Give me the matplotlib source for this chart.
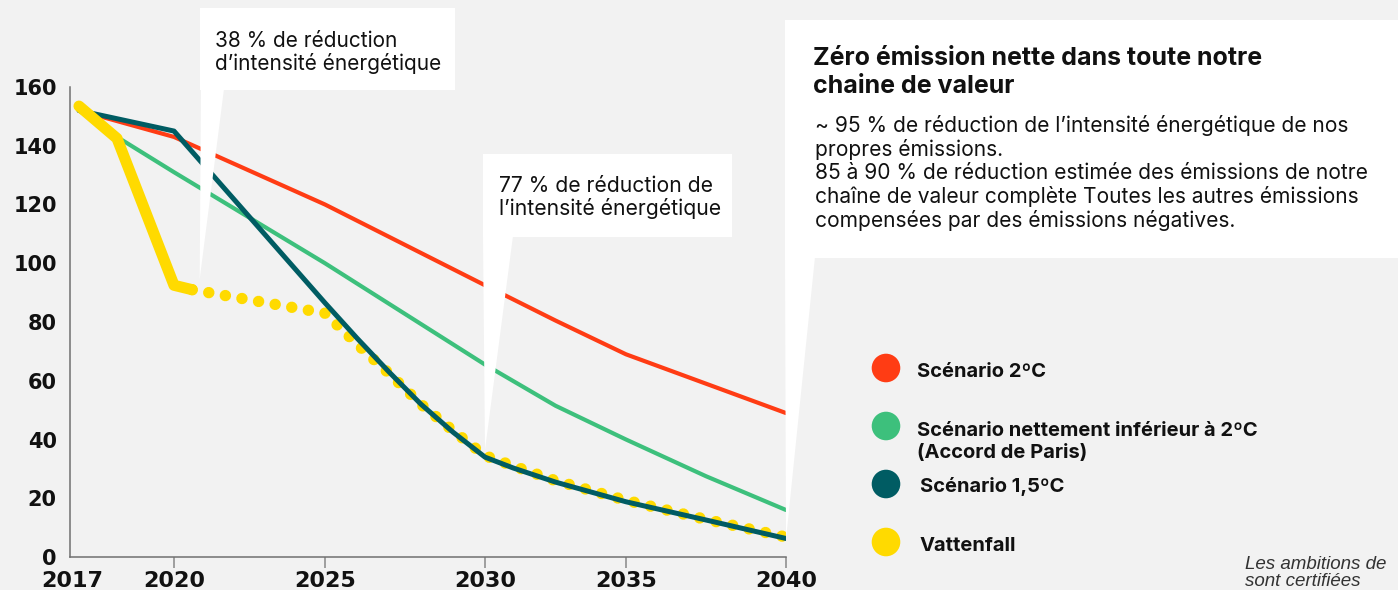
import numpy as np
import matplotlib
matplotlib.use("Agg")
import matplotlib.pyplot as plt
from matplotlib.patches import Polygon, Circle
from matplotlib.transforms import ScaledTranslation

W, H = 1398, 590
DPI = 100
BG = "#F2F2F2"

# ---------------- data ----------------
years_2c = [2017, 2020, 2025, 2030, 2032.5, 2035, 2037.5, 2040]
vals_2c = [152, 143, 120, 92.5, 80.5, 69, 59, 49]

years_wb2 = [2017, 2018.2, 2020, 2025, 2030, 2032.5, 2035, 2037.5, 2040]
vals_wb2 = [152, 143, 131, 100, 65.5, 51.5, 40, 27.5, 16]

years_15 = [2017, 2020, 2025, 2026, 2027, 2028, 2029, 2030, 2031, 2032.5, 2035, 2037.5, 2040]
vals_15 = [152, 145, 86.5, 74.5, 63, 52, 42.5, 34, 30.3, 25.5, 18.8, 12.6, 6.3]

years_vf_solid = [2017, 2018.2, 2020, 2020.6]
vals_vf_solid = [153.5, 142.5, 92.5, 91]
years_vf_dot = [2020.6, 2025, 2026, 2027, 2028, 2029, 2030, 2031, 2032.5, 2035, 2037.5, 2040]
vals_vf_dot = [91, 83, 72.5, 62.5, 52, 43, 34.5, 31, 26, 19.3, 12.8, 6.8]

x_ticks = [2017, 2020, 2025, 2030, 2035, 2040]
x_ticklabels = ["2017", "2020", "2025", "2030", "2035", "2040"]
y_ticks = [0, 20, 40, 60, 80, 100, 120, 140, 160]

legend_labels = ["Scénario 2ºC",
                 "Scénario nettement inférieur à 2ºC\n(Accord de Paris)",
                 "Scénario 1,5ºC",
                 "Vattenfall"]

note1 = ["38 % de réduction", "d’intensité énergétique"]
note2 = ["77 % de réduction de", "l’intensité énergétique"]
note3_title = ["Zéro émission nette dans toute notre", "chaine de valeur"]
note3_body = ["~ 95 % de réduction de l’intensité énergétique de nos",
              "propres émissions.",
              "85 à 90 % de réduction estimée des émissions de notre",
              "chaîne de valeur complète Toutes les autres émissions",
              "compensées par des émissions négatives."]
footer = ["Les ambitions de", "sont certifiées"]

RED = "#FF3C14"
GREEN = "#3DC07C"
TEAL = "#005C63"
YELLOW = "#FFDA00"

# non-uniform spacing of the original x axis (scale breakpoints)
SCALE_YEARS = [2016.72, 2017, 2020, 2025, 2030, 2035, 2040]
SCALE_POS = [0, 9, 104, 255, 415, 556, 716]


def fwd(x):
    return np.interp(x, SCALE_YEARS, SCALE_POS)


def inv(u):
    return np.interp(u, SCALE_POS, SCALE_YEARS)


def fx(x):
    return x / W


def fy(y):
    return 1 - y / H


fig = plt.figure(figsize=(W / DPI, H / DPI), dpi=DPI, facecolor=BG)
ax = fig.add_axes([fx(70), fy(557), (786 - 70) / W, (557 - 87) / H])
ax.set_facecolor(BG)
ax.set_xscale("function", functions=(fwd, inv))
ax.set_xlim(2016.72, 2040)
ax.set_ylim(0, 160)

ax.plot(years_2c, vals_2c, color=RED, lw=3.0, solid_capstyle="round", solid_joinstyle="round", zorder=2)
ax.plot(years_wb2, vals_wb2, color=GREEN, lw=3.0, solid_capstyle="round", solid_joinstyle="round", zorder=2)
ax.plot(years_vf_dot, vals_vf_dot, color=YELLOW, lw=8.2, linestyle=(0, (0.01, 1.47)),
        dash_capstyle="round", zorder=3)
ax.plot(years_15, vals_15, color=TEAL, lw=3.6, solid_capstyle="round", solid_joinstyle="round", zorder=4)
ax.plot(years_vf_solid, vals_vf_solid, color=YELLOW, lw=8.0, solid_capstyle="round",
        solid_joinstyle="round", zorder=5)

ax.set_xticks(x_ticks)
ax.set_xticklabels(x_ticklabels)
ax.xaxis.set_minor_locator(matplotlib.ticker.NullLocator())
ax.set_yticks(y_ticks)
ax.yaxis.set_minor_locator(matplotlib.ticker.NullLocator())

for lab in ax.get_xticklabels():
    lab.set_fontfamily("DejaVu Sans")
    lab.set_fontweight("bold")
    lab.set_fontsize(16)
    lab.set_color("#111111")
for lab in ax.get_yticklabels():
    lab.set_fontfamily("DejaVu Sans")
    lab.set_fontweight("bold")
    lab.set_fontsize(15)
    lab.set_color("#111111")
ax.tick_params(axis="x", length=8, width=1.1, color="#888888", pad=2)
ax.tick_params(axis="y", length=0, pad=9.5)
first = ax.xaxis.get_major_ticks()[0]
first.tick1line.set_visible(False)
first.label1.set_transform(first.label1.get_transform()
                           + ScaledTranslation(-0.07, 0, fig.dpi_scale_trans))

for s in ["top", "right"]:
    ax.spines[s].set_visible(False)
for s in ["left", "bottom"]:
    ax.spines[s].set_color("#707070")
    ax.spines[s].set_linewidth(1.1)

# ---------------- callout boxes ----------------
fig.canvas.draw()
to_fig = fig.transFigure.inverted()


def data_tip(x, y):
    return to_fig.transform(ax.transData.transform((x, y)))


def add_callout(x0, y0, x1, y1, wl, wr, tip):
    box = Polygon([(fx(x0), fy(y0)), (fx(x1), fy(y0)), (fx(x1), fy(y1)), (fx(x0), fy(y1))],
                  closed=True, transform=fig.transFigure, facecolor="white",
                  edgecolor="none", zorder=5)
    fig.add_artist(box)
    wedge = Polygon([(fx(wl), fy(y1) + 0.002), (fx(wr), fy(y1) + 0.002), tuple(tip)],
                    closed=True, transform=fig.transFigure, facecolor="white",
                    edgecolor="none", zorder=5)
    fig.add_artist(wedge)


add_callout(200, 8, 455, 90, 201, 224, data_tip(2020.85, 94.5))
add_callout(483, 154, 732, 237, 483, 513, data_tip(2030, 36.5))
add_callout(785, 20, 1400, 258, 785, 815, data_tip(2040, 6))

TXT = ["Inter", "DejaVu Sans"]


def lines(x, y0, step, texts, **kw):
    for i, t in enumerate(texts):
        fig.text(fx(x), fy(y0 + i * step), t, va="baseline", ha="left",
                 family=TXT, zorder=6, **kw)


lines(215, 47, 23, note1, size=15, color="#111111")
lines(499, 192, 23, note2, size=15.2, color="#111111")
lines(813, 65, 28, note3_title, size=18, weight="bold", color="#111111")
lines(815, 132, 23.7, note3_body, size=15.1, color="#111111")

# ---------------- legend ----------------
leg_colors = [RED, GREEN, TEAL, YELLOW]
leg_circle_y = [368, 426, 484, 542]
leg_text_x = [917, 917, 920, 920]
leg_text_y = [377, 436, 492, 551]
for c, cy, tx, ty, lab in zip(leg_colors, leg_circle_y, leg_text_x, leg_text_y, legend_labels):
    fig.add_artist(Circle((886 / DPI, (H - cy) / DPI), 0.143, transform=fig.dpi_scale_trans,
                          facecolor=c, edgecolor="none", zorder=6))
    parts = lab.split("\n")
    for i, p in enumerate(parts):
        fig.text(fx(tx), fy(ty + i * 22), p, va="baseline", ha="left", family=TXT,
                 weight="bold", size=14.5, color="#111111", zorder=6)

# ---------------- footer ----------------
for i, t in enumerate(footer):
    fig.text(fx(1245), fy(569 + i * 17), t, va="baseline", ha="left",
             family=["Liberation Sans", "DejaVu Sans"], style="italic", size=13.5,
             color="#333333", zorder=6)

fig.savefig("out.png", dpi=DPI, facecolor=BG)
